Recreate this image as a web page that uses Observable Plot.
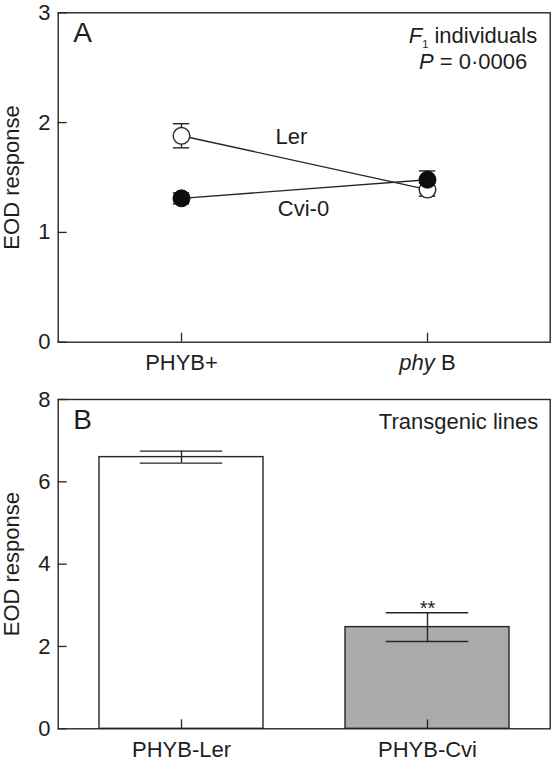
<!DOCTYPE html>
<html><head><meta charset="utf-8">
<script src="https://cdn.jsdelivr.net/npm/d3@7"></script>
<script src="https://cdn.jsdelivr.net/npm/@observablehq/plot@0.6"></script>
<style>
body{margin:0;background:#fff;}
#chart svg{display:block;}
</style></head><body><div id="chart"></div>
<script>
// ---------- Panel A data (F1 individuals) ----------
const genotypesA = ["PHYB+", "phy B"];
const lerMeans = [1.88, 1.39];
const lerSE = [0.11, 0.06];
const cviMeans = [1.31, 1.48];
const cviSE = [0.05, 0.08];
const yTicksA = [0, 1, 2, 3];
const seriesNames = ["Ler", "Cvi-0"];
const seriesLabelY = [1.87, 1.21];
const panelA = "A";
const noteA1 = "F1 individuals";
const noteA2 = "P = 0·0006";

// ---------- Panel B data (transgenic lines) ----------
const linesB = ["PHYB-Ler", "PHYB-Cvi"];
const meansB = [6.60, 2.47];
const seB = [0.146, 0.35];
const signifB = ["", "**"];
const yTicksB = [0, 2, 4, 6, 8];
const panelB = "B";
const noteB = "Transgenic lines";
const yLabel = "EOD response";

// ---------- styles ----------
const ink = "#262626";
const barFills = ["#ffffff", "#ababab"];
const font = "'Liberation Sans', Arial, Helvetica, sans-serif";
const FS = 22;
const W = 551, mL = 57.7, mR = 1.3;
const bandOpts = {type: "band", paddingInner: 0.335, paddingOuter: 0.1675};
const bw = (W - mL - mR) / 2 * (1 - 0.335);

const ptsA = [];
genotypesA.forEach((g, i) => {
  ptsA.push({series: seriesNames[0], g, v: lerMeans[i], se: lerSE[i]});
  ptsA.push({series: seriesNames[1], g, v: cviMeans[i], se: cviSE[i]});
});
const ler = ptsA.filter(d => d.series === seriesNames[0]);
const cvi = ptsA.filter(d => d.series === seriesNames[1]);
const capA = (bw - 16) / 2;

const corner = {text: d => d, lineAnchor: "middle"};

const chartA = Plot.plot({
  width: W, height: 380,
  marginLeft: mL, marginRight: mR, marginTop: 12.3, marginBottom: 38.3,
  style: {fontFamily: font, fontSize: FS + "px", color: "#1e1e1e", background: "white"},
  x: {...bandOpts, domain: genotypesA},
  y: {domain: [0, 3]},
  marks: [
    Plot.frame({stroke: ink, strokeWidth: 1.4}),
    Plot.axisX({tickSize: -9, tickPadding: 21.5, label: null, fontSize: FS, stroke: ink, strokeWidth: 1.3}),
    Plot.axisY({ticks: yTicksA, tickSize: -9, tickPadding: 16.7, label: null, fontSize: FS, tickFormat: d => d, stroke: ink, strokeWidth: 1.3}),
    Plot.line(ptsA, {x: "g", y: "v", z: "series", stroke: ink, strokeWidth: 1.4}),
    Plot.ruleX(ptsA, {x: "g", y1: d => d.v - d.se, y2: d => d.v + d.se, stroke: ink, strokeWidth: 1.4}),
    Plot.tickY(ptsA, {x: "g", y: d => d.v + d.se, insetLeft: capA, insetRight: capA, stroke: ink, strokeWidth: 1.4}),
    Plot.tickY(ptsA, {x: "g", y: d => d.v - d.se, insetLeft: capA, insetRight: capA, stroke: ink, strokeWidth: 1.4}),
    Plot.dot(ler, {x: "g", y: "v", r: 8.3, fill: "white", stroke: ink, strokeWidth: 1.4}),
    Plot.dot(cvi, {x: "g", y: "v", r: 8.5, fill: "#0d0d0d", stroke: "#0d0d0d", strokeWidth: 1}),
    Plot.text([seriesNames[0]], {x: () => genotypesA[0], y: () => seriesLabelY[0], text: d => d, dx: 110, fontSize: FS}),
    Plot.text([seriesNames[1]], {x: () => genotypesA[0], y: () => seriesLabelY[1], text: d => d, dx: 122, fontSize: FS}),
    Plot.text([panelA], {...corner, frameAnchor: "top-left", textAnchor: "start", dx: 15, dy: 20.5, fontSize: 28}),
    Plot.text([noteA1], {...corner, frameAnchor: "top-right", textAnchor: "end", dx: -13, dy: 22.7, fontSize: FS}),
    Plot.text([noteA2], {...corner, frameAnchor: "top-right", textAnchor: "end", dx: -23, dy: 49.4, fontSize: FS}),
    Plot.text([yLabel], {...corner, frameAnchor: "left", textAnchor: "middle", rotate: -90, dx: -46.7, fontSize: FS})
  ]
});

const dataB = linesB.map((l, i) => ({line: l, v: meansB[i], se: seB[i], sig: signifB[i]}));
const capB = (bw - 82) / 2;

const chartB = Plot.plot({
  width: W, height: 382,
  marginLeft: mL, marginRight: mR, marginTop: 19, marginBottom: 33.7,
  style: {fontFamily: font, fontSize: FS + "px", color: "#1e1e1e", background: "white"},
  x: {...bandOpts, domain: linesB},
  y: {domain: [0, 8]},
  color: {domain: linesB, range: barFills},
  marks: [
    Plot.barY(dataB, {x: "line", y: "v", fill: "line", stroke: ink, strokeWidth: 1.4}),
    Plot.frame({stroke: ink, strokeWidth: 1.4}),
    Plot.axisX({tickSize: -9, tickPadding: 21.5, label: null, fontSize: FS, stroke: ink, strokeWidth: 1.3}),
    Plot.axisY({ticks: yTicksB, tickSize: -9, tickPadding: 16.7, label: null, fontSize: FS, tickFormat: d => d, stroke: ink, strokeWidth: 1.3}),
    Plot.ruleX(dataB, {x: "line", y1: d => d.v - d.se, y2: d => d.v + d.se, stroke: ink, strokeWidth: 1.4}),
    Plot.tickY(dataB, {x: "line", y: d => d.v + d.se, insetLeft: capB, insetRight: capB, stroke: ink, strokeWidth: 1.4}),
    Plot.tickY(dataB, {x: "line", y: d => d.v - d.se, insetLeft: capB, insetRight: capB, stroke: ink, strokeWidth: 1.4}),
    Plot.text(dataB, {x: "line", y: d => d.v + d.se, text: "sig", dy: -4, fontSize: 20}),
    Plot.text([panelB], {...corner, frameAnchor: "top-left", textAnchor: "start", dx: 15, dy: 20.5, fontSize: 28}),
    Plot.text([noteB], {...corner, frameAnchor: "top-right", textAnchor: "end", dx: -12, dy: 22.7, fontSize: FS}),
    Plot.text([yLabel], {...corner, frameAnchor: "left", textAnchor: "middle", rotate: -90, dx: -46.7, fontSize: FS})
  ]
});

// rich-text styling (italics, subscript)
const NS = "http://www.w3.org/2000/svg";
function span(txt, attrs = {}) {
  const s = document.createElementNS(NS, "tspan");
  for (const k in attrs) s.setAttribute(k, attrs[k]);
  s.textContent = txt;
  return s;
}
chartA.querySelectorAll("text").forEach(t => {
  const c = t.textContent;
  if (c === "phy B") {
    t.textContent = "";
    t.append(span("phy", {"font-style": "italic"}), span(" B"));
  } else if (c === noteA1) {
    t.textContent = "";
    t.append(span("F", {"font-style": "italic"}), span("1", {"font-size": "11px", dy: "5"}), span(" individuals", {dy: "-5"}));
  } else if (c === noteA2) {
    t.textContent = "";
    t.append(span("P", {"font-style": "italic"}), span(" = 0·0006"));
  }
});

document.getElementById("chart").append(chartA, chartB);
</script>
</body></html>
